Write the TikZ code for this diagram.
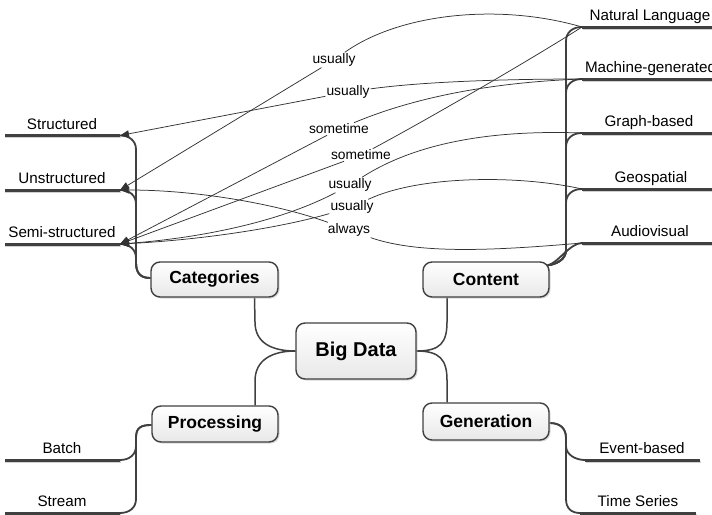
\documentclass[tikz,border=0pt]{standalone}
\usepackage{fontspec}
\setmainfont{Liberation Sans}
\usetikzlibrary{arrows.meta,shadows,calc,backgrounds}
\definecolor{ink}{HTML}{404040}
\tikzset{
  topic/.style={draw=ink, line width=1.4pt, rounded corners=9pt, top color=white, bottom color=black!9,
    font=\fontsize{17.5}{20}\selectfont\bfseries, inner sep=0pt,
    drop shadow={shadow xshift=1.5pt, shadow yshift=-1.5pt, fill=black!30, opacity=0.5}},
  leaftxt/.style={font=\fontsize{15.2}{18}\selectfont, anchor=base, inner sep=0pt},
  rel/.style={font=\fontsize{13.8}{16}\selectfont, inner sep=1pt},
  leafline/.style={line width=3pt, draw=ink},
  leafshadow/.style={line width=1.5pt, draw=black!18},
  branch/.style={line width=1.8pt, draw=ink},
  trunk/.style={line width=1.5pt, draw=ink},
  relline/.style={line width=0.75pt, draw=black!80},
  relarrow/.style={relline, -{Triangle[length=9pt,width=7pt]}},
}
\begin{document}
\begin{tikzpicture}[x=1pt,y=-1pt]
\useasboundingbox (0,0) rectangle (712,514);

% topic nodes
\node[topic, minimum width=120pt, minimum height=56pt, font=\fontsize{20}{22}\selectfont\bfseries] (bd) at (356,351) {Big Data};
\node[topic, minimum width=127pt, minimum height=35pt] (cat) at (214.5,279.5) {Categories};
\node[topic, minimum width=126pt, minimum height=35pt] (con) at (486,279.5) {Content};
\node[topic, minimum width=126pt, minimum height=36pt] (proc) at (215,424) {Processing};
\node[topic, minimum width=126pt, minimum height=37pt] (gen) at (486,421.5) {Generation};

% leaf end points
\coordinate (lS) at (120,135.5);
\coordinate (lU) at (120,190);
\coordinate (lM) at (120,244);
\coordinate (lB) at (120,460);
\coordinate (lT) at (120,513);
\coordinate (lNL) at (582,27);
\coordinate (lMG) at (582,79);
\coordinate (lGB) at (582,133);
\coordinate (lGS) at (582,189);
\coordinate (lAV) at (582,243);
\coordinate (lEB) at (585,460);
\coordinate (lTS) at (580,513);

% leaf texts
\node[leaftxt] (tS) at (62,129) {Structured};
\node[leaftxt] (tU) at (62,183.5) {Unstructured};
\node[leaftxt] (tM) at (62,237.5) {Semi-structured};
\node[leaftxt] (tB) at (62,453.5) {Batch};
\node[leaftxt] (tT) at (62,506.5) {Stream};
\node[leaftxt] (tNL) at (650,20.5) {Natural Language};
\node[leaftxt] (tMG) at (650.5,72.5) {Machine-generated};
\node[leaftxt] (tGB) at (649,126.5) {Graph-based};
\node[leaftxt] (tGS) at (651,182.5) {Geospatial};
\node[leaftxt] (tAV) at (650,236.5) {Audiovisual};
\node[leaftxt] (tEB) at (642,453.5) {Event-based};
\node[leaftxt] (tTS) at (638,506.5) {Time Series};

% relation labels
\node[rel] (r1) at (334,60) {usually};
\node[rel] (r2) at (348,92) {usually};
\node[rel] (r3) at (339,129) {sometime};
\node[rel] (r4) at (361,155) {sometime};
\node[rel] (r5) at (350,185) {usually};
\node[rel] (r6) at (352,207) {usually};
\node[rel] (r7) at (349,230) {always};

\begin{pgfonlayer}{background}
% leaf underlines
\foreach \y in {135.5,190,244,460,513}{
  \draw[leafshadow] (5,\y+2) -- (121,\y+2);
  \draw[leafline] (5,\y) -- (120,\y);
}
\foreach \y in {27,79,133,189,243}{
  \draw[leafshadow] (583,\y+2) -- (714,\y+2);
  \draw[leafline] (582,\y) -- (714,\y);
}
\draw[leafshadow] (586,462) -- (701,462);
\draw[leafline] (lEB) -- (700,460);
\draw[leafshadow] (581,515) -- (697,515);
\draw[leafline] (lTS) -- (696,513);

% big data connectors
\draw[trunk] ([xshift=40pt]cat.south) -- (255,322) .. controls (255,343) and (272,351) .. (bd.west);
\draw[trunk] (bd.west) .. controls (272,351) and (255,360) .. (255,381) -- ([xshift=40pt]proc.north);
\draw[trunk] (bd.east) .. controls (440,351) and (447,343) .. (447,322) -- ([xshift=-39pt]con.south);
\draw[trunk] (bd.east) .. controls (440,351) and (447,360) .. (447,380) -- ([xshift=-39pt]gen.north);

% categories branches
\coordinate (cs) at ([yshift=1.5pt]cat.west);
\draw[branch] (cs) .. controls +(-11,0) and +(0,10) .. (136,262) -- (136,149.5) .. controls +(0,-9) and +(9,0) .. (lS);
\draw[branch] (cs) .. controls +(-11,0) and +(0,10) .. (136,262) -- (136,204) .. controls +(0,-9) and +(9,0) .. (lU);
\draw[branch] (cs) .. controls +(-11,0) and +(0,10) .. (136,262) -- (136,258) .. controls +(0,-9) and +(9,0) .. (lM);

% processing branches
\coordinate (ps) at ([yshift=-1pt]proc.west);
\draw[branch] (ps) .. controls +(-11,0) and +(0,-10) .. (136,438) -- (136,446) .. controls +(0,9) and +(9,0) .. (lB);
\draw[branch] (ps) .. controls +(-11,0) and +(0,-10) .. (136,438) -- (136,499) .. controls +(0,9) and +(9,0) .. (lT);

% content branches
\coordinate (ks) at ([xshift=-2pt,yshift=-4pt]con.north east);
\foreach \c/\y in {lNL/27,lMG/79,lGB/133,lGS/189}{
  \draw[branch] (ks) .. controls +(8,-1) and +(0,10) .. (566,250) -- (566,\y+14) .. controls +(0,-9) and +(-9,0) .. (\c);
}
\draw[branch] (ks) .. controls +(10,-2) and +(-12,0) .. (lAV);

% generation branches
\coordinate (gs) at ([yshift=-1.5pt]gen.east);
\draw[branch] (gs) .. controls +(10,0) and +(0,-10) .. (566,438) -- (566,446) .. controls +(0,9) and +(-9,0) .. (lEB);
\draw[branch] (gs) .. controls +(10,0) and +(0,-10) .. (566,438) -- (566,499) .. controls +(0,9) and +(-9,0) .. (lTS);
\end{pgfonlayer}

% relations
\draw[relline] (lNL) .. controls (500,3) and (400,13) .. (r1);
\draw[relarrow] (r1) -- (lU);
\draw[relline] (lMG) .. controls (500,79) and (420,82) .. (r2);
\draw[relarrow] (r2) -- (lS);
\draw[relline] (lMG) .. controls (500,82) and (420,95) .. (r3);
\draw[relarrow] (r3) -- (lM);
\draw[relline] (lNL) .. controls (530,60) and (430,118) .. (r4);
\draw[relarrow] (r4) -- (lM);
\draw[relline] (lGB) .. controls (500,130) and (420,140) .. (r5);
\draw[relarrow] (r5) .. controls (280,222) and (200,238) .. (lM);
\draw[relline] (lGS) .. controls (520,175) and (420,175) .. (r6);
\draw[relarrow] (r6) .. controls (280,228) and (200,240) .. (lM);
\draw[relline] (lAV) .. controls (500,250) and (420,255) .. (r7);
\draw[relarrow] (r7) .. controls (280,205) and (200,190) .. (lU);
\end{tikzpicture}
\end{document}
